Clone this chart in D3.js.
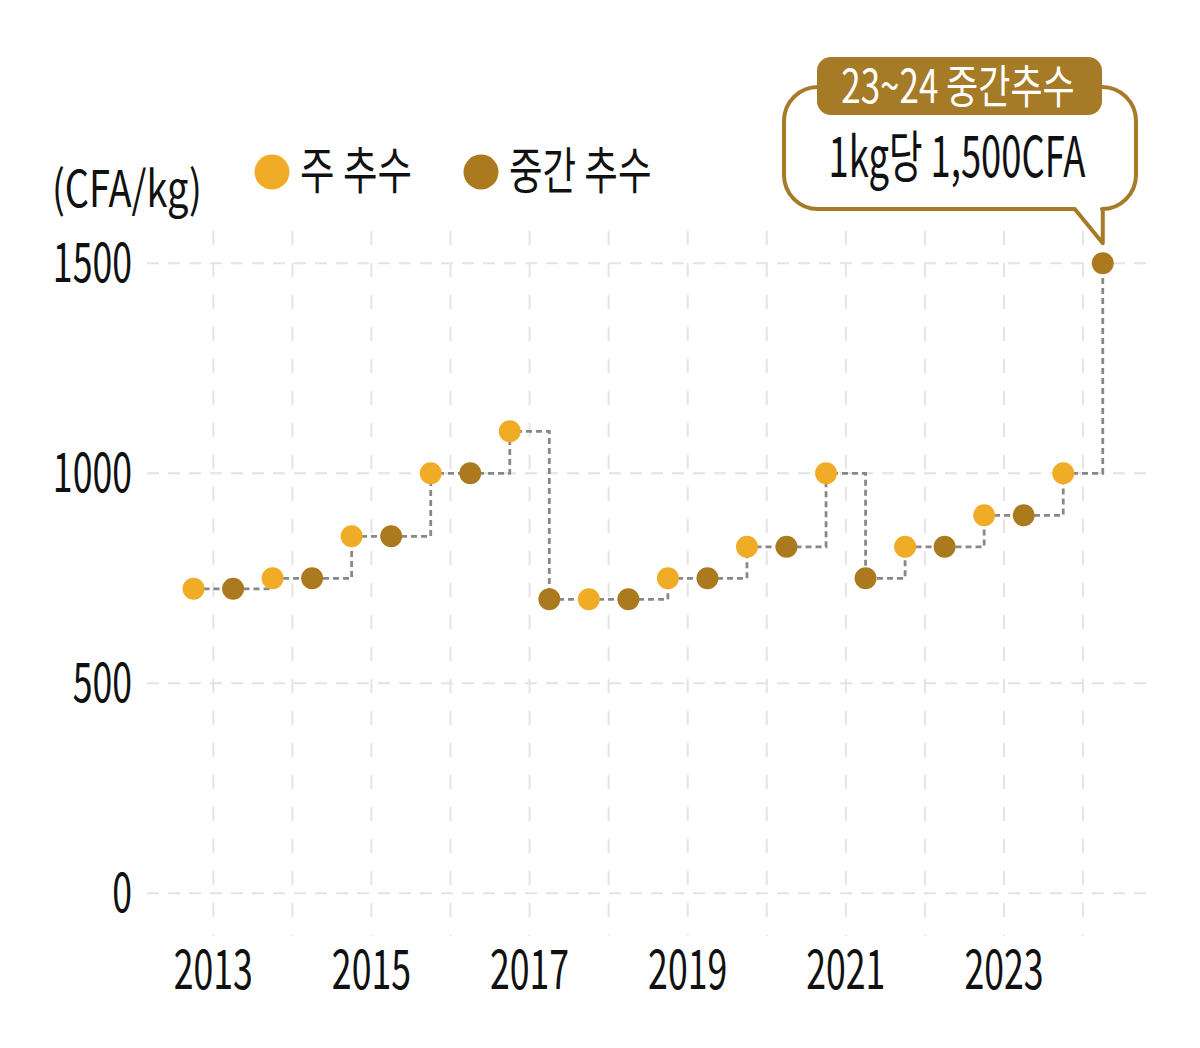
<!DOCTYPE html>
<html>
<head>
<meta charset="utf-8">
<script src="https://cdn.jsdelivr.net/npm/d3@7"></script>
<style>
  html, body { margin: 0; padding: 0; background: #fff; }
  svg { display: block; }
  text { font-family: "Noto Sans CJK KR", "Noto Sans", sans-serif; }
</style>
</head>
<body>
<svg id="chart" width="1200" height="1048"></svg>
<script>
// ---- data ----
const seasonStart = [2012, 2013, 2014, 2015, 2016, 2017, 2018, 2019, 2020, 2021, 2022, 2023];
const mainHarvest = [725, 750, 850, 1000, 1100, 700, 750, 825, 1000, 825, 900, 1000];
const midHarvest  = [725, 750, 850, 1000, 700, 700, 750, 825, 750, 825, 900, 1500];
const yTicks = [0, 500, 1000, 1500];
const xTickYears = [2013, 2015, 2017, 2019, 2021, 2023];
const xGridYears = [2013, 2014, 2015, 2016, 2017, 2018, 2019, 2020, 2021, 2022, 2023, 2024];
const unitLabel = "(CFA/kg)";
const legendLabels = ["주 추수", "중간 추수"];
const calloutTitle = "23~24 중간추수";
const calloutText = "1kg당 1,500CFA";

const ORANGE = "#F1AC27";
const BROWN = "#AC7A1E";
const CALLOUT = "#A67B27";

const svg = d3.select("#chart");

const x = d3.scaleLinear().domain([2013, 2024]).range([213.3, 1083]);
const y = d3.scaleLinear().domain([0, 1500]).range([893.3, 263.3]);

// helper for condensed text
function ctext(g, px, py, str, size, anchor, sx, fill) {
  return g.append("text")
    .attr("transform", `translate(${px},${py}) scale(${sx},1)`)
    .attr("text-anchor", anchor)
    .attr("font-size", size)
    .attr("fill", fill || "#111")
    .text(str);
}

// ---- grid ----
const grid = svg.append("g");
grid.selectAll("line.h").data(yTicks).join("line")
  .attr("x1", 147).attr("x2", 1147)
  .attr("y1", d => y(d)).attr("y2", d => y(d))
  .attr("stroke", "#e4e4e4").attr("stroke-width", 2)
  .attr("stroke-dasharray", "12,9");
grid.selectAll("line.v").data(xGridYears).join("line")
  .attr("x1", d => x(d)).attr("x2", d => x(d))
  .attr("y1", 231).attr("y2", 936)
  .attr("stroke", "#e4e4e4").attr("stroke-width", 2)
  .attr("stroke-dasharray", "14,18");

// ---- axes labels ----
const axisG = svg.append("g");
yTicks.forEach(t => ctext(axisG, 132, y(t) + 19, String(t), 54, "end", 0.66));
xTickYears.forEach(t => ctext(axisG, x(t), 989, String(t), 54, "middle", 0.66));

// ---- legend ----
ctext(svg, 52, 207, unitLabel, 50, "start", 0.76);
const legendColors = [ORANGE, BROWN];
const legendX = [272, 481];
const legendSx = [0.75, 0.73];
legendLabels.forEach((lab, i) => {
  svg.append("circle").attr("cx", legendX[i]).attr("cy", 172).attr("r", 17.5).attr("fill", legendColors[i]);
  ctext(svg, legendX[i] + 28, 189, lab, 50, "start", legendSx[i]);
});

// ---- series ----
const pts = [];
seasonStart.forEach((s, i) => {
  pts.push({ t: s + 0.75, v: mainHarvest[i], c: ORANGE });
  pts.push({ t: s + 1.25, v: midHarvest[i], c: BROWN });
});
pts.sort((a, b) => a.t - b.t);

const line = d3.line().x(d => x(d.t)).y(d => y(d.v)).curve(d3.curveStepAfter);
svg.append("path").attr("d", line(pts))
  .attr("fill", "none").attr("stroke", "#888").attr("stroke-width", 2.8)
  .attr("stroke-dasharray", "6,4");

svg.append("g").selectAll("circle").data(pts).join("circle")
  .attr("cx", d => x(d.t)).attr("cy", d => y(d.v)).attr("r", 11)
  .attr("fill", d => d.c);

// ---- callout ----
const last = pts[pts.length - 1];
const tipX = x(last.t), tipY = y(last.v) - 20;
const bx0 = 784, bx1 = 1136, by0 = 87, by1 = 209, r = 34;
const p = d3.path();
p.moveTo(bx0 + r, by0);
p.lineTo(bx1 - r, by0);
p.arcTo(bx1, by0, bx1, by0 + r, r);
p.lineTo(bx1, by1 - r);
p.arcTo(bx1, by1, bx1 - r, by1, r);
p.lineTo(tipX, by1);
p.lineTo(tipX, tipY);
p.lineTo(tipX - 28, by1);
p.lineTo(bx0 + r, by1);
p.arcTo(bx0, by1, bx0, by1 - r, r);
p.lineTo(bx0, by0 + r);
p.arcTo(bx0, by0, bx0 + r, by0, r);
p.closePath();
svg.append("path").attr("d", p.toString())
  .attr("fill", "#fff").attr("stroke", CALLOUT).attr("stroke-width", 4)
  .attr("stroke-linejoin", "round");

svg.append("rect").attr("x", 817).attr("y", 57).attr("width", 285).attr("height", 58)
  .attr("rx", 14).attr("fill", CALLOUT);
ctext(svg, 958, 103, calloutTitle, 46, "middle", 0.76, "#fff");
ctext(svg, 957, 177, calloutText, 56, "middle", 0.65, "#111");
</script>
</body>
</html>
